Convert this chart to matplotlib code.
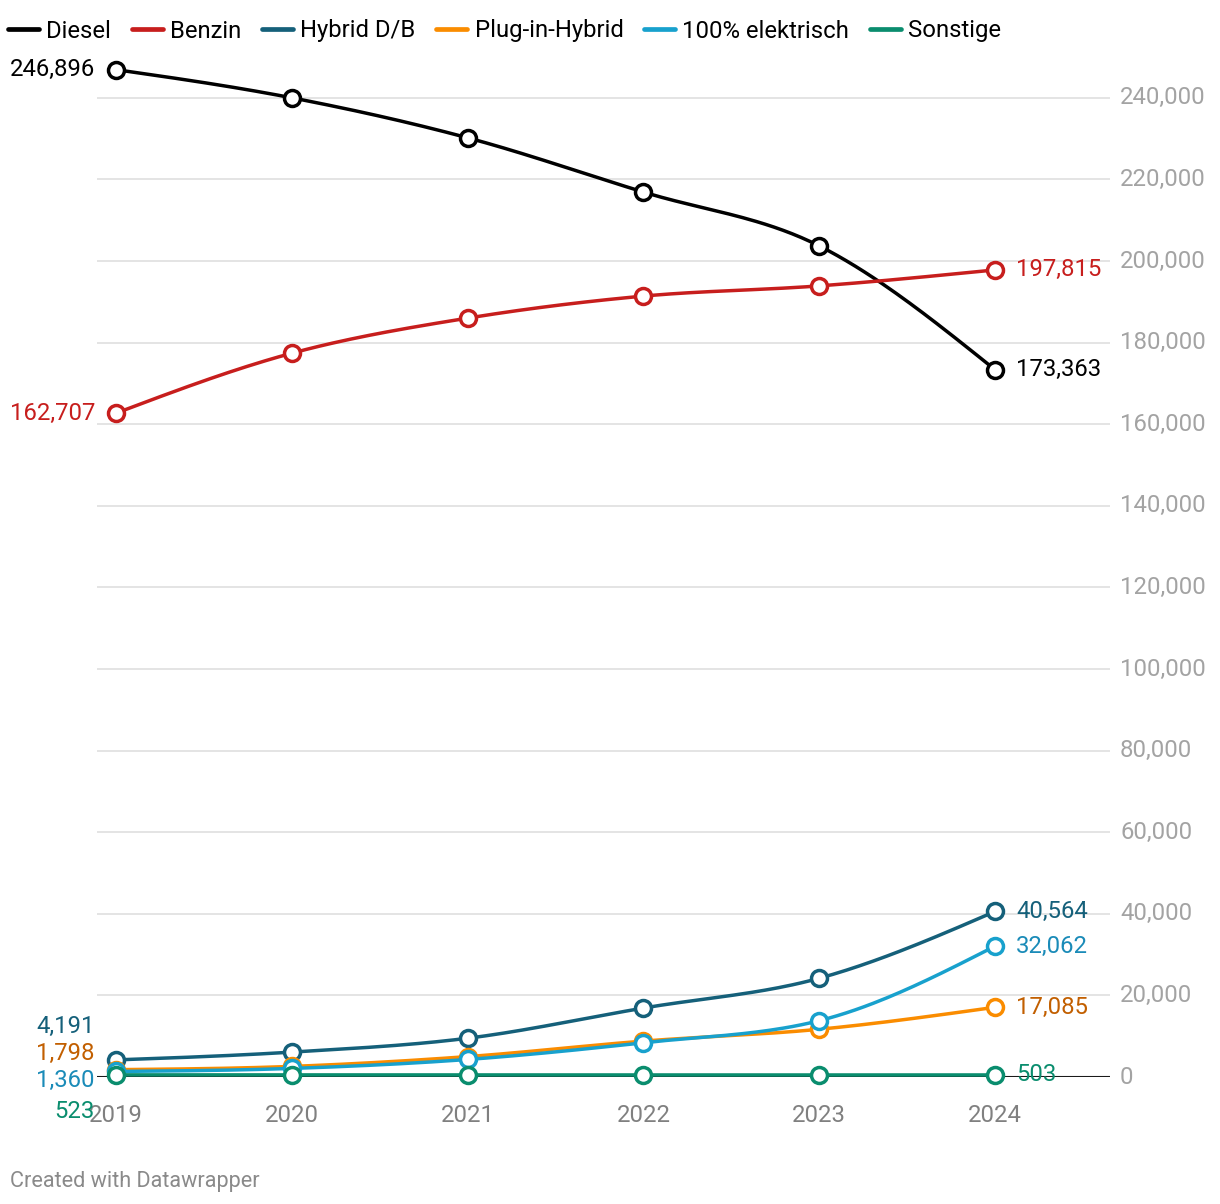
import numpy as np
import matplotlib
matplotlib.use("Agg")
import matplotlib.pyplot as plt
from matplotlib.lines import Line2D

plt.rcParams['font.family'] = ['Roboto', 'DejaVu Sans']

years = [2019, 2020, 2021, 2022, 2023, 2024]
series_names = ["Diesel", "Benzin", "Hybrid D/B", "Plug-in-Hybrid", "100% elektrisch", "Sonstige"]
diesel = [246896, 240000, 230200, 216900, 203700, 173363]
benzin = [162707, 177400, 186000, 191400, 193900, 197815]
hybrid = [4191, 6100, 9500, 16900, 24200, 40564]
plugin = [1798, 2600, 5000, 8800, 11700, 17085]
elektrisch = [1360, 2100, 4300, 8400, 13800, 32062]
sonstige = [523, 510, 500, 480, 500, 503]

line_colors = ["#000000", "#c71e1d", "#15607a", "#fa8c00", "#18a1cd", "#0a8d6e"]
label_colors = ["#000000", "#c71e1d", "#15607a", "#c25f00", "#1a8bb8", "#0a8d6e"]
y_ticks = list(range(0, 240001, 20000))

FS = 17.2


def monotone_curve(x, y, n=40):
    # d3 curveMonotoneX
    x = np.asarray(x, float)
    y = np.asarray(y, float)
    h = np.diff(x)
    s = np.diff(y) / h
    m = np.zeros_like(y)
    for k in range(1, len(x) - 1):
        p = (s[k - 1] * h[k] + s[k] * h[k - 1]) / (h[k - 1] + h[k])
        m[k] = (np.sign(s[k - 1]) + np.sign(s[k])) * min(abs(s[k - 1]), abs(s[k]), 0.5 * abs(p))
    m[0] = (3 * s[0] - m[1]) / 2
    m[-1] = (3 * s[-1] - m[-2]) / 2
    xs, ys = [], []
    for k in range(len(x) - 1):
        t = np.linspace(0, 1, n)
        h00 = 2 * t**3 - 3 * t**2 + 1
        h10 = t**3 - 2 * t**2 + t
        h01 = -2 * t**3 + 3 * t**2
        h11 = t**3 - t**2
        xs.append(x[k] + t * h[k])
        ys.append(h00 * y[k] + h10 * h[k] * m[k] + h01 * y[k + 1] + h11 * h[k] * m[k + 1])
    return np.concatenate(xs), np.concatenate(ys)


fig = plt.figure(figsize=(12.2, 12.04), dpi=100)
ax = fig.add_axes([97 / 1220, 1 - 1077 / 1204, 1013 / 1220, 1020 / 1204])
ax.set_xlim(2019 - 19 / 175.8, 2024 + 115 / 175.8)
ax.set_ylim(0, 250000)

for v in y_ticks[1:]:
    ax.axhline(v, color="#e2e2e2", lw=1.3, zorder=0)
ax.axhline(0, color="#1a1a1a", lw=1.5, zorder=1)

all_series = [diesel, benzin, hybrid, plugin, elektrisch, sonstige]
draw_order = [5, 3, 4, 2, 1, 0]
for i in draw_order:
    vals = all_series[i]
    cx, cy = monotone_curve(years, vals)
    ax.plot(cx, cy, color=line_colors[i], lw=2.5, zorder=3 + i, clip_on=False, solid_capstyle="round")
    ax.plot(years, vals, ls="none", marker="o", ms=11.5, mfc="white", mec=line_colors[i], mew=2.5,
            zorder=3 + i, clip_on=False)

# x ticks
for yr in years:
    ax.plot([yr, yr], [0, 0], marker="|", ms=8, mew=1.8, color="#1a1a1a", ls="none",
            clip_on=False, zorder=2)
    ax.annotate(str(yr), (yr, 0), xytext=(0, -38), textcoords="offset pixels",
                ha="center", va="center", fontsize=FS, color="#808080")

ax.set_xticks([])
ax.set_yticks([])
for v in y_ticks:
    ax.annotate(f"{v:,}", (1, v), xycoords=("axes fraction", "data"), xytext=(10, 0),
                textcoords="offset pixels", ha="left", va="center", fontsize=FS, color="#a3a3a3")
for sp in ax.spines.values():
    sp.set_visible(False)

# value labels (offsets in pixels to avoid overlaps, as in the original)
left_offsets = [0, 0, 33, 16, -9, -37]
right_offsets = [0, 0, 0, 0, 0, 0]
for i, vals in enumerate(all_series):
    ax.annotate(f"{vals[0]:,}", (years[0], vals[0]), xytext=(-21, left_offsets[i]),
                textcoords="offset pixels", ha="right", va="center", fontsize=FS,
                color=label_colors[i], zorder=20)
    ax.annotate(f"{vals[-1]:,}", (years[-1], vals[-1]), xytext=(21, right_offsets[i]),
                textcoords="offset pixels", ha="left", va="center", fontsize=FS,
                color=label_colors[i], zorder=20)

# legend
handles = [Line2D([0], [0], color=c, lw=3.4, solid_capstyle="round") for c in line_colors]
fig.legend(handles, series_names, loc="center left", bbox_to_anchor=(8 / 1220, 1 - 31 / 1204),
           ncol=6, frameon=False, fontsize=FS, handlelength=1.3, handletextpad=0.3,
           columnspacing=0.87, borderpad=0, borderaxespad=0)

fig.text(10 / 1220, 1 - 1181 / 1204, "Created with Datawrapper", fontsize=15.6, color="#8a8a8a",
         ha="left", va="center")

fig.savefig("out.png", dpi=100)
